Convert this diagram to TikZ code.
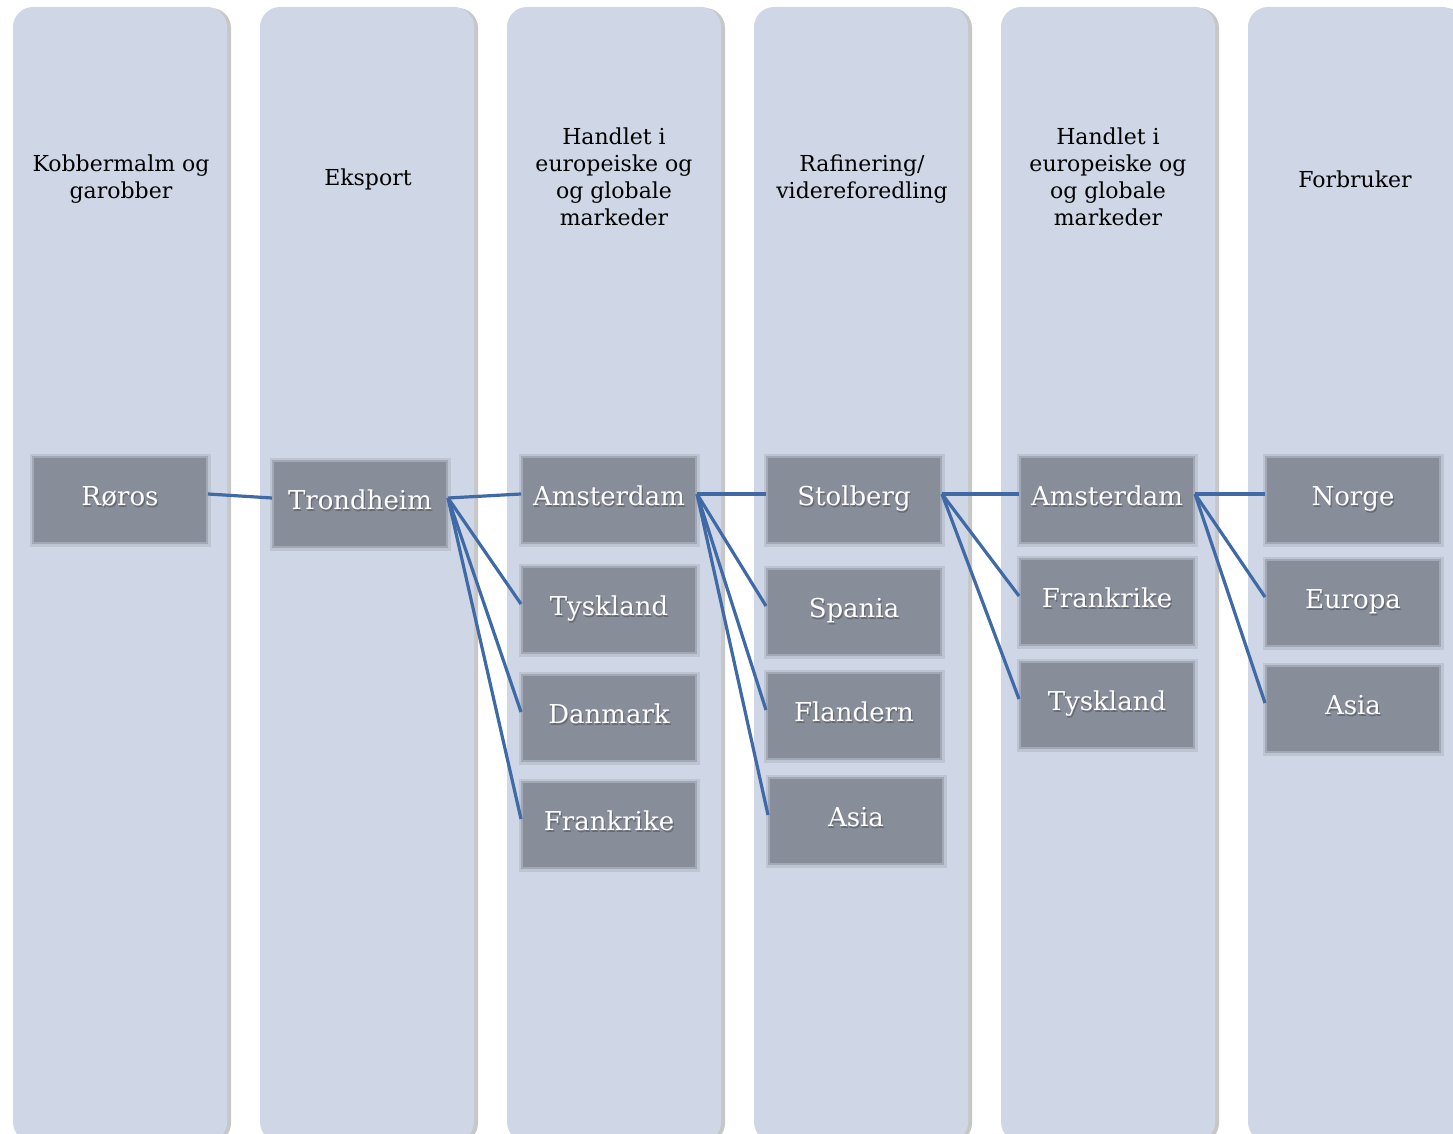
\documentclass[tikz,border=0pt]{standalone}
\usepackage{fontspec}
\setmainfont{DejaVu Serif}
\usepackage{xcolor}
\usetikzlibrary{shadows}
\definecolor{colfill}{RGB}{207,215,230}
\definecolor{boxgray}{RGB}{136,141,154}
\definecolor{linkblue}{RGB}{64,106,166}
\colorlet{txtshadow}{boxgray!75!black}
\newcommand{\shd}[1]{\rlap{\kern1.2pt\raisebox{-1.5pt}{\color{txtshadow}#1}}#1}

\begin{document}
\begin{tikzpicture}[x=1pt,y=-1pt,
	column/.style={fill=colfill,rounded corners=20pt,
		drop shadow={shadow xshift=4pt,shadow yshift=-1pt,fill=black,opacity=0.22}},
	head/.style={align=center,font=\fontsize{22}{27}\selectfont},
	box/.style={fill=boxgray,draw=boxgray,draw opacity=0.5,line width=4pt,
		preaction={draw=boxgray,draw opacity=0.25,line width=9pt},
		minimum width=172pt,minimum height=84pt,inner sep=0pt,text=white,
		font=\fontsize{26}{30}\selectfont,text height=20pt,text depth=9pt},
	link/.style={draw=linkblue,line width=3.2pt}]
	\useasboundingbox (0,0) rectangle (1453,1134);
	\clip (0,0) rectangle (1453,1134);
	% columns
	\foreach \x [count=\i] in {13,260,507,754,1001,1248}
	{\path[column] (\x,7) rectangle ++(214,1135);}
	% headers
	\node[head] (h1) at (121,179) {Kobbermalm og\\garobber};
	\node[head] (h2) at (368,179) {Eksport};
	\node[head] (h3) at (614,177) {Handlet i\\europeiske og\\og globale\\markeder};
	\node[head] (h4) at (862,179) {Rafinering/\\videreforedling};
	\node[head] (h5) at (1108,177) {Handlet i\\europeiske og\\og globale\\markeder};
	\node[head] (h6) at (1355,179) {Forbruker};
	% places
	\node[box] (ros) at (120,500) {\shd{Røros}};
	\node[box] (trd) at (360,504) {\shd{Trondheim}};
	\node[box] (ams1) at (609,500) {\shd{Amsterdam}};
	\node[box] (tys1) at (609,610) {\shd{Tyskland}};
	\node[box] (dan) at (609,718) {\shd{Danmark}};
	\node[box] (fra1) at (609,825) {\shd{Frankrike}};
	\node[box] (sto) at (854,500) {\shd{Stolberg}};
	\node[box] (spa) at (854,612) {\shd{Spania}};
	\node[box] (fla) at (854,716) {\shd{Flandern}};
	\node[box] (asi1) at (856,821) {\shd{Asia}};
	\node[box] (ams2) at (1107,500) {\shd{Amsterdam}};
	\node[box] (fra2) at (1107,602) {\shd{Frankrike}};
	\node[box] (tys2) at (1107,705) {\shd{Tyskland}};
	\node[box] (nor) at (1353,500) {\shd{Norge}};
	\node[box] (eur) at (1353,603) {\shd{Europa}};
	\node[box] (asi2) at (1353,709) {\shd{Asia}};
	% links
	\foreach \a/\b in {ros/trd,trd/ams1,trd/tys1,trd/dan,trd/fra1,
		ams1/sto,ams1/spa,ams1/fla,ams1/asi1,sto/ams2,sto/fra2,sto/tys2,
		ams2/nor,ams2/eur,ams2/asi2}
	{\draw[link] ([yshift=6pt]\a.east) -- ([yshift=6pt]\b.west);}
\end{tikzpicture}
\end{document}
